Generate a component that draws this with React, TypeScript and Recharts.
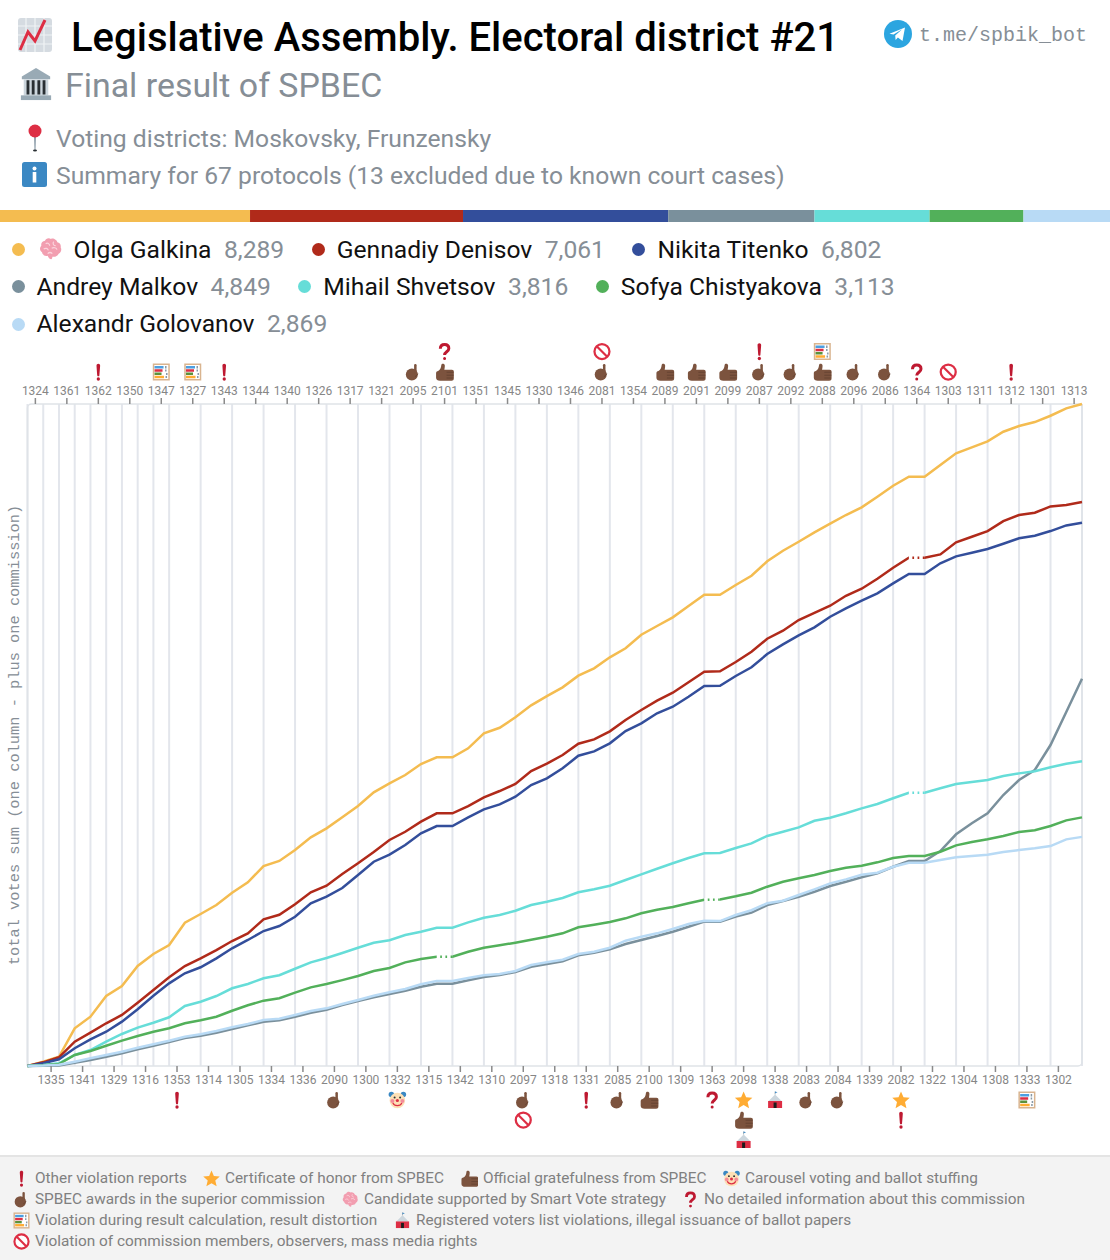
import React from "react";
import {
  Bar,
  BarChart,
  CartesianGrid,
  Line,
  LineChart,
  ReferenceArea,
  XAxis,
  YAxis,
} from "recharts";

// commissions in the order of the bands, top and bottom axis take turns
const topCommissions = ["1324","1361","1362","1350","1347","1327","1343","1344","1340","1326","1317","1321","2095","2101","1351","1345","1330","1346","2081","1354","2089","2091","2099","2087","2092","2088","2096","2086","1364","1303","1311","1312","1301","1313"];
const bottomCommissions = ["1335","1341","1329","1316","1353","1314","1305","1334","1336","2090","1300","1332","1315","1342","1310","2097","1318","1331","2085","2100","1309","1363","2098","1338","2083","2084","1339","2082","1322","1304","1308","1333","1302"];

const galkina = [0,54,116,472,617,876,1002,1252,1402,1515,1794,1903,2016,2170,2300,2504,2567,2704,2863,2976,3114,3255,3427,3539,3643,3781,3865,3865,3978,4165,4235,4366,4516,4632,4741,4887,4979,5117,5230,5400,5509,5618,5759,5901,5901,6022,6139,6319,6452,6564,6682,6790,6899,6995,7128,7265,7378,7378,7525,7671,7746,7821,7942,8013,8063,8142,8234,8289];
const denisov = [0,46,109,304,417,535,639,793,952,1111,1252,1348,1452,1565,1661,1837,1894,2024,2175,2257,2404,2538,2679,2830,2933,3059,3164,3164,3255,3364,3443,3531,3693,3785,3894,4035,4090,4190,4332,4457,4574,4674,4804,4937,4942,5058,5187,5350,5450,5584,5675,5763,5888,5976,6101,6239,6364,6364,6406,6557,6627,6698,6823,6899,6927,7007,7024,7061];
const titenko = [0,34,84,222,334,429,555,710,880,1035,1161,1236,1348,1474,1578,1690,1753,1869,2037,2120,2229,2391,2558,2646,2767,2913,3005,3005,3113,3213,3276,3372,3518,3602,3727,3885,3940,4040,4194,4290,4416,4499,4624,4758,4761,4883,4992,5158,5280,5392,5492,5625,5730,5826,5918,6043,6160,6160,6294,6381,6427,6473,6539,6607,6639,6698,6769,6802];
const malkov = [0,3,5,41,75,116,159,209,254,300,351,379,417,463,510,555,572,617,667,705,764,812,860,901,943,993,1031,1031,1073,1114,1139,1177,1243,1277,1311,1386,1419,1461,1527,1578,1628,1681,1744,1807,1807,1872,1920,2015,2066,2120,2182,2254,2307,2363,2412,2495,2567,2567,2692,2901,3039,3164,3393,3581,3706,4019,4432,4849];
const shvetsov = [0,13,33,138,200,304,401,480,542,610,751,805,876,973,1027,1098,1136,1218,1298,1352,1415,1481,1544,1574,1640,1681,1732,1732,1799,1857,1891,1944,2016,2057,2103,2175,2212,2257,2329,2400,2470,2538,2604,2663,2667,2729,2788,2880,2933,2988,3071,3109,3164,3226,3280,3352,3422,3422,3477,3531,3556,3581,3631,3664,3690,3740,3785,3816];
const chistyakova = [0,8,25,138,188,254,317,376,429,472,535,572,617,692,760,818,848,918,985,1027,1075,1127,1189,1227,1298,1340,1369,1369,1431,1481,1511,1544,1581,1619,1661,1737,1769,1803,1849,1912,1957,1991,2037,2082,2085,2125,2170,2245,2307,2350,2391,2441,2483,2508,2550,2604,2629,2629,2683,2763,2804,2838,2880,2930,2951,3005,3076,3113];
const golovanov = [0,5,15,54,96,138,179,229,272,317,367,397,438,485,526,576,592,639,689,722,776,827,880,923,964,1023,1064,1064,1102,1136,1152,1189,1265,1298,1331,1402,1431,1481,1569,1619,1661,1715,1778,1819,1815,1891,1950,2037,2070,2141,2212,2287,2337,2395,2420,2495,2545,2545,2579,2613,2629,2646,2679,2704,2726,2754,2838,2869];

const names = ["Olga Galkina","Gennadiy Denisov","Nikita Titenko","Andrey Malkov","Mihail Shvetsov","Sofya Chistyakova","Alexandr Golovanov"];
const totals = [8289,7061,6802,4849,3816,3113,2869];
const keys = ["galkina","denisov","titenko","malkov","shvetsov","chistyakova","golovanov"];
const colors = ["#f4bc50","#b02a1a","#334e9b","#7a909c","#66ddd8","#52b05a","#b8daf5"];
const series = [galkina,denisov,titenko,malkov,shvetsov,chistyakova,golovanov];

// bands with no protocol details, the line is dotted across them
const dottedSpans = [
  { key: "denisov", band: 56 },
  { key: "shvetsov", band: 56 },
  { key: "chistyakova", band: 26 },
  { key: "chistyakova", band: 43 },
];

const topMarks: Record<string, string[]> = {
  "1362": ["excl"], "1347": ["abacus"], "1327": ["abacus"], "1343": ["excl"],
  "2095": ["point"], "2101": ["thumb","question"], "2081": ["point","ban"],
  "2089": ["thumb"], "2091": ["thumb"], "2099": ["thumb"], "2087": ["point","excl"],
  "2092": ["point"], "2088": ["thumb","abacus"], "2096": ["point"], "2086": ["point"],
  "1364": ["question"], "1303": ["ban"], "1312": ["excl"],
};
const bottomMarks: Record<string, string[]> = {
  "1353": ["excl"], "2090": ["point"], "1332": ["clown"], "2097": ["point","ban"],
  "1331": ["excl"], "2085": ["point"], "2100": ["thumb"], "1363": ["question"],
  "2098": ["star","thumb","tent"], "1338": ["tent"], "2083": ["point"], "2084": ["point"],
  "2082": ["star","excl"], "1333": ["abacus"],
};

const footerRows = [
  [["excl","Other violation reports",35],["star","Certificate of honor from SPBEC",225],["thumb","Official gratefulness from SPBEC",483],["clown","Carousel voting and ballot stuffing",745]],
  [["point","SPBEC awards in the superior commission",35],["brain","Candidate supported by Smart Vote strategy",364],["question","No detailed information about this commission",704]],
  [["abacus","Violation during result calculation, result distortion",35],["tent","Registered voters list violations, illegal issuance of ballot papers",416]],
  [["ban","Violation of commission members, observers, mass media rights",35]],
] as [string, string, number][][];

const bandCount = topCommissions.length + bottomCommissions.length;
const commissionAt = (v: number) => {
  const i = Math.floor(v);
  return i % 2 === 0 ? topCommissions[i / 2] : bottomCommissions[(i - 1) / 2];
};
const topTicks = topCommissions.map((_, i) => i * 2 + 0.5);
const bottomTicks = bottomCommissions.map((_, i) => i * 2 + 1.5);
const gridValues = Array.from({ length: bandCount + 1 }, (_, i) => i);

const rows = galkina.map((_, i) => {
  const row: Record<string, number | null> = { x: i };
  keys.forEach((k, s) => (row[k] = series[s][i]));
  dottedSpans.forEach((d, n) => {
    row["dot" + n] = i === d.band || i === d.band + 1 ? row[d.key] : null;
  });
  return row;
});
const shareRow = [Object.fromEntries(keys.map((k, s) => [k, totals[s]]))];
const totalVotes = totals.reduce((a, b) => a + b, 0);

const FONT = "Roboto, sans-serif";
const MONO = "'Liberation Mono', monospace";
const BROWN = "#7c533e";
const BROWN_DARK = "#5f3f2f";
const RED = "#be1931";

// little pictures, drawn in a 36x36 box (there is no emoji font here)
function Glyph({ kind }: { kind: string }) {
  switch (kind) {
    case "excl":
      return (
        <g fill={RED}>
          <path d="M21.6 5c0-2.2-1.6-3.6-3.6-3.6S14.4 2.800 14.4 5c0 1.800 1.200 17.500 1.500 20 .1 1.100 1 1.700 2.100 1.700s2-.6 2.100-1.700c.3-2.500 1.500-18.200 1.500-20z" />
          <circle cx="18" cy="32" r="3.300" />
        </g>
      );
    case "question":
      return (
        <g fill="none" stroke={RED} strokeWidth="6">
          <path d="M9.500 12.500C9.500 7 13 4 18 4s8.500 3 8.500 8c0 6.500-8.500 6.500-8.500 13" />
          <circle cx="18" cy="32" r="1.500" fill={RED} strokeWidth="3" />
        </g>
      );
    case "ban":
      return (
        <g fill="#fff" stroke="#dd2e44" strokeWidth="4.500">
          <circle cx="18" cy="18" r="15" />
          <path d="M7.500 7.500l21 21" fill="none" />
        </g>
      );
    case "abacus":
      return (
        <g>
          <rect x="1" y="1" width="34" height="34" fill="#d9b48f" />
          <rect x="4" y="4" width="28" height="28" fill="#fff" />
          <rect x="4.500" y="6" width="18" height="5" fill="#4d9fe0" />
          <rect x="4.500" y="12.500" width="16" height="5" fill="#dd2e44" />
          <rect x="4.500" y="19" width="14" height="5" fill="#5c913b" />
          <rect x="4.500" y="25.500" width="19" height="5" fill="#ffac33" />
          <path d="M27 6v5M27 13v4M29 20v4M28 26v4" stroke="#8899a6" strokeWidth="3" />
        </g>
      );
    case "point":
      return (
        <g>
          <circle cx="15.500" cy="23" r="12" fill={BROWN} />
          <rect x="20" y="2" width="5" height="20" rx="2.400" fill={BROWN} />
          <path d="M22 27c3-1 5-3 5.500-6" stroke={BROWN_DARK} strokeWidth="1.500" fill="none" />
        </g>
      );
    case "thumb":
      return (
        <g>
          <path d="M1 20c0-2.500 2-4 4-4 4-2 6-6 6.500-12 .5-3.500 7-3 7 1.500 0 3-.5 5-1 8h15c3 0 4 1.500 4 4v13c0 3.500-2 5-4.500 5H9c-5 0-8-2-8-6z" fill={BROWN} />
          <path d="M22 18.500h14M22 24.500h14M22 30h13" stroke={BROWN_DARK} strokeWidth="1.500" />
        </g>
      );
    case "star":
      return <path d="M18 1l5 11.500 12.500 1.200-9.500 8.300 2.900 12.300L18 27.800 7.100 34.300 10 22 .5 13.700 13 12.500z" fill="#ffac33" />;
    case "clown":
      return (
        <g>
          <circle cx="6" cy="7" r="5.500" fill="#3b88c3" />
          <circle cx="30" cy="7" r="5.500" fill="#3b88c3" />
          <circle cx="18" cy="19" r="15.500" fill="#fde0b5" />
          <circle cx="8" cy="20" r="4" fill="#f48c9a" />
          <circle cx="28" cy="20" r="4" fill="#f48c9a" />
          <circle cx="12.500" cy="13" r="2" fill="#292f33" />
          <circle cx="23.500" cy="13" r="2" fill="#292f33" />
          <circle cx="18" cy="19" r="3.200" fill="#dd2e44" />
          <path d="M9 24c3 7 15 7 18 0" fill="none" stroke="#dd2e44" strokeWidth="2.500" />
        </g>
      );
    case "tent":
      return (
        <g>
          <path d="M18 7L5 20h26z" fill="#ccd6dd" />
          <path d="M18 7V1" stroke="#8899a6" strokeWidth="1.500" />
          <path d="M18 1l5 1.500-5 2z" fill="#3b88c3" />
          <rect x="4" y="20" width="28" height="14" fill="#dd2e44" />
          <rect x="15" y="23" width="6" height="11" fill="#1c1c1c" />
        </g>
      );
    case "brain":
      return (
        <g>
          <path d="M18 3c-3-2.500-8-1-9 2.500-4 .5-6.500 4-5.500 7.500-3 3-2.500 8 1 10 .5 4 5 6.500 8.500 5 1 3 3 5 5.500 5.500 1.500-1 1.500-3 1.500-4 4 1 8-1 9.500-4.500 3.500-1.500 5-6 3-9.500 1-3.500-1.500-7-5-7.500C27 4.500 21 1 18 3z" fill="#f29eb0" />
          <path d="M10 10c3-2 6 0 6 3M22 7c-2 3 0 6 3 6M7 18c3-2 6-1 7 2M19 17c3-2 7-1 8 2M13 25c2-2 5-2 7 0" fill="none" stroke="#fbd3dc" strokeWidth="1.800" />
        </g>
      );
    default:
      return null;
  }
}

// one picture at its own spot on the page, for text rows outside the chart
function PageGlyph({ kind, cx, cy, size }: { kind: string; cx: number; cy: number; size: number }) {
  return (
    <svg
      viewBox="0 0 36 36"
      width={size}
      height={size}
      style={{ position: "absolute", left: cx - size / 2, top: cy - size / 2 }}
    >
      <Glyph kind={kind} />
    </svg>
  );
}

function ChartEmoji() {
  return (
    <svg viewBox="0 0 36 36" width={36} height={36} style={{ position: "absolute", left: 17, top: 17 }}>
      <rect x="1" y="1" width="34" height="34" rx="3" fill="#d5dbe1" />
      <path d="M1 9h34M1 18h34M1 27h34M9 1v34M18 1v34M27 1v34" stroke="#f0f3f6" strokeWidth="1.200" />
      <path d="M3 33L11 15l7 9 10-21" fill="none" stroke="#dd2e44" strokeWidth="3" />
    </svg>
  );
}

function BankEmoji() {
  return (
    <svg viewBox="0 0 36 36" width={34} height={34} style={{ position: "absolute", left: 19, top: 67 }}>
      <path d="M18 1L3 10v3h30v-3z" fill="#99aab5" />
      <rect x="5" y="13" width="26" height="17" fill="#ccd6dd" />
      <path d="M9.500 14v15M15 14v15M21 14v15M26.500 14v15" stroke="#292f33" strokeWidth="3" />
      <rect x="2" y="30" width="32" height="5" fill="#99aab5" />
    </svg>
  );
}

function PinEmoji() {
  return (
    <svg viewBox="0 0 20 28" width={20} height={28} style={{ position: "absolute", left: 25, top: 124 }}>
      <path d="M9 11h2l-.5 15h-1z" fill="#8899a6" />
      <ellipse cx="10" cy="26.500" rx="2" ry="1" fill="#292f33" />
      <circle cx="10" cy="7" r="6.500" fill="#dd2e44" />
    </svg>
  );
}

function InfoEmoji() {
  return (
    <svg viewBox="0 0 25 25" width={25} height={25} style={{ position: "absolute", left: 22, top: 162 }}>
      <rect width="25" height="25" rx="2.500" fill="#3b88c3" />
      <circle cx="12.500" cy="6.500" r="2" fill="#fff" />
      <rect x="10.700" y="10" width="3.600" height="10.500" fill="#fff" />
    </svg>
  );
}

function TelegramIcon() {
  return (
    <svg viewBox="0 0 28 28" width={28} height={28} style={{ position: "absolute", left: 884, top: 20 }}>
      <circle cx="14" cy="14" r="14" fill="#2ca5e0" />
      <path d="M5.500 13.700L21 7.500l-2.500 13.500-4.600-3.400-2.300 2.300-.4-4.300 7-6.300-8.700 5.300z" fill="#fff" />
    </svg>
  );
}

function pageText(left: number, top: number, size: number, color: string, weight = 400): React.CSSProperties {
  return {
    position: "absolute",
    left,
    top,
    fontFamily: FONT,
    fontSize: size,
    color,
    fontWeight: weight,
    lineHeight: 1,
    whiteSpace: "nowrap",
  };
}

// x axis tick: commission number plus its stacked pictures
function CommissionTick(props: any) {
  const { x, y, payload, side } = props;
  const id = commissionAt(payload.value);
  const marks = (side === "top" ? topMarks : bottomMarks)[id] || [];
  const labelY = side === "top" ? y - 1 : y + 10;
  return (
    <g>
      <text x={x} y={labelY} textAnchor="middle" fontFamily={FONT} fontSize={12} fill="#868686">
        {id}
      </text>
      {marks.map((m, i) => {
        const cy = side === "top" ? y - 24 - i * 20.5 : y + 26 + i * 20;
        return (
          <g key={m} transform={`translate(${x - 9},${cy - 9}) scale(0.5)`}>
            <Glyph kind={m} />
          </g>
        );
      })}
    </g>
  );
}

// right axis tick: the words run downwards from the tick
function TotalTick(props: any) {
  const { x, y, payload } = props;
  const isTop = payload.value > 0;
  const px = x + 5;
  return (
    <text
      x={px}
      y={y}
      transform={`rotate(90 ${px} ${y})`}
      textAnchor={isTop ? "start" : "end"}
      dy="0.35em"
      fontFamily={MONO}
      fontSize={15.350}
      fill="#868e96"
    >
      {isTop ? payload.value.toLocaleString("en-US") + " votes" : "0"}
    </text>
  );
}

export default function App() {
  return (
    <div style={{ position: "absolute", left: 0, top: 0, width: 1110, height: 1260, background: "#fff", overflow: "hidden" }}>
      <ChartEmoji />
      <div style={pageText(71, 18, 40, "#000", 500)}>Legislative Assembly. Electoral district #21</div>
      <TelegramIcon />
      <div style={{ ...pageText(919, 25.500, 20, "#868e96"), fontFamily: MONO }}>t.me/spbik_bot</div>

      <BankEmoji />
      <div style={pageText(65, 69, 33.900, "#868e96")}>Final result of SPBEC</div>
      <PinEmoji />
      <div style={pageText(56, 127, 24.650, "#868e96")}>Voting districts: Moskovsky, Frunzensky</div>
      <InfoEmoji />
      <div style={pageText(56, 164, 24.650, "#868e96")}>Summary for 67 protocols (13 excluded due to known court cases)</div>

      {/* vote shares strip */}
      <div style={{ position: "absolute", left: 0, top: 210 }}>
        <BarChart
          width={1110}
          height={12}
          data={shareRow}
          layout="vertical"
          stackOffset="none"
          barCategoryGap={0}
          margin={{ top: 0, right: 0, bottom: 0, left: 0 }}
        >
          <XAxis type="number" hide domain={[0, totalVotes]} />
          <YAxis type="category" hide />
          {keys.map((k, s) => (
            <Bar key={k} dataKey={k} stackId="all" fill={colors[s]} isAnimationActive={false} />
          ))}
        </BarChart>
      </div>

      {/* candidates */}
      <div
        style={{
          position: "absolute",
          left: 11.500,
          top: 230.500,
          width: 1090,
          display: "flex",
          flexWrap: "wrap",
          columnGap: 27.500,
          fontFamily: FONT,
          fontSize: 24.650,
          lineHeight: "37.400px",
        }}
      >
        {names.map((name, s) => (
          <div key={name} style={{ display: "flex", alignItems: "center", whiteSpace: "nowrap" }}>
            <span style={{ width: 13, height: 13, borderRadius: "50%", background: colors[s], marginRight: 12 }} />
            {s === 0 && (
              <svg viewBox="0 0 36 36" width={24} height={24} style={{ marginLeft: 2.500, marginRight: 10.500 }}>
                <Glyph kind="brain" />
              </svg>
            )}
            <span style={{ color: "#111" }}>{name}</span>
            <span style={{ color: "#868e96", marginLeft: 12.500 }}>{totals[s].toLocaleString("en-US")}</span>
          </div>
        ))}
      </div>

      <div style={{ position: "absolute", left: 0, top: 340 }}>
        <LineChart width={1110} height={820} data={rows} margin={{ top: 14, right: 0, bottom: 14, left: 0 }}>
          <CartesianGrid
            horizontal={false}
            verticalValues={gridValues}
            stroke="#e3e6ec"
            strokeWidth={2}
          />
          <XAxis
            xAxisId="top"
            orientation="top"
            type="number"
            dataKey="x"
            domain={[0, bandCount]}
            ticks={topTicks}
            interval={0}
            height={50}
            tickSize={6}
            axisLine={false}
            tickLine={{ stroke: "#8a8a8a", strokeWidth: 1.500 }}
            tick={<CommissionTick side="top" />}
          />
          <XAxis
            xAxisId="bottom"
            orientation="bottom"
            type="number"
            dataKey="x"
            domain={[0, bandCount]}
            ticks={bottomTicks}
            interval={0}
            height={80}
            tickSize={6}
            axisLine={false}
            tickLine={{ stroke: "#8a8a8a", strokeWidth: 1.500 }}
            tick={<CommissionTick side="bottom" />}
          />
          <YAxis
            yAxisId="left"
            width={27.500}
            domain={[0, totals[0]]}
            tick={false}
            axisLine={false}
            tickLine={false}
            label={{
              value: "total votes sum (one column - plus one commission)",
              angle: -90,
              position: "center",
              style: { fontFamily: MONO, fontSize: 15.350, fill: "#868e96" },
            }}
          />
          <YAxis
            yAxisId="right"
            orientation="right"
            width={28}
            domain={[0, totals[0]]}
            ticks={[0, totals[0]]}
            axisLine={false}
            tickLine={false}
            tick={<TotalTick />}
          />
          <ReferenceArea
            xAxisId="bottom"
            yAxisId="left"
            x1={0}
            x2={bandCount}
            y1={0}
            y2={totals[0]}
            fill="none"
            stroke="#dfe3e8"
            strokeWidth={1.500}
            radius={4}
          />
          {keys.map((k, s) => (
            <Line
              key={k}
              xAxisId="bottom"
              yAxisId="left"
              dataKey={k}
              stroke={colors[s]}
              strokeWidth={2.500}
              dot={false}
              type="linear"
              isAnimationActive={false}
            />
          ))}
          {dottedSpans.map((_, n) => (
            <Line
              key={n}
              xAxisId="bottom"
              yAxisId="left"
              dataKey={"dot" + n}
              stroke="#fff"
              strokeWidth={3.500}
              strokeDasharray="3.500 1.700"
              dot={false}
              type="linear"
              isAnimationActive={false}
            />
          ))}
        </LineChart>
      </div>

      {/* what the pictures mean */}
      <div style={{ position: "absolute", left: 0, top: 1155, width: 1110, height: 105, background: "#f3f3f3", borderTop: "2px solid #e4e4e4", boxSizing: "border-box" }} />
      {footerRows.map((row, r) =>
        row.map(([kind, label, left]) => (
          <React.Fragment key={label}>
            <PageGlyph kind={kind} cx={left - 14} cy={1178 + r * 21} size={17} />
            <div style={pageText(left, 1171 + r * 21, 15.350, "#808080")}>{label}</div>
          </React.Fragment>
        )),
      )}
    </div>
  );
}
